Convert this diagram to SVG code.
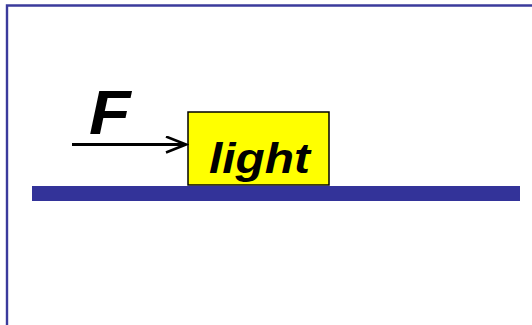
<svg xmlns="http://www.w3.org/2000/svg" width="532" height="325" viewBox="0 0 532 325">
<style>
.frame{stroke:#3b3b9c;stroke-width:2.4;fill:none}
.lbl{font-family:"Liberation Sans",Arial,sans-serif;font-weight:bold;font-style:italic;fill:#000}
</style>
<defs>
<marker id="ah" markerUnits="userSpaceOnUse" markerWidth="24" markerHeight="20" refX="21" refY="9" orient="auto">
<path d="M1,1 L21,9 L1,17" fill="none" stroke="#000" stroke-width="2.5"/>
</marker>
</defs>
<rect width="532" height="325" fill="#fff"/>
<path class="frame" d="M7,325 V5.5 H532"/>
<rect id="ground" x="32" y="186" width="488" height="15" fill="#333399"/>
<g id="block">
<rect x="188" y="112" width="141" height="73" fill="#ffff00" stroke="#000" stroke-width="1.5"/>
<text class="lbl" transform="translate(209,172.5) scale(1.14,1)" font-size="42">light</text>
</g>
<g id="connectors">
<line x1="72" y1="144.5" x2="186" y2="144.5" stroke="#000" stroke-width="3" marker-end="url(#ah)"/>
</g>
<g id="force-label">
<text class="lbl" transform="translate(89,133.5) scale(1.08,1)" font-size="63">F</text>
</g>
</svg>
